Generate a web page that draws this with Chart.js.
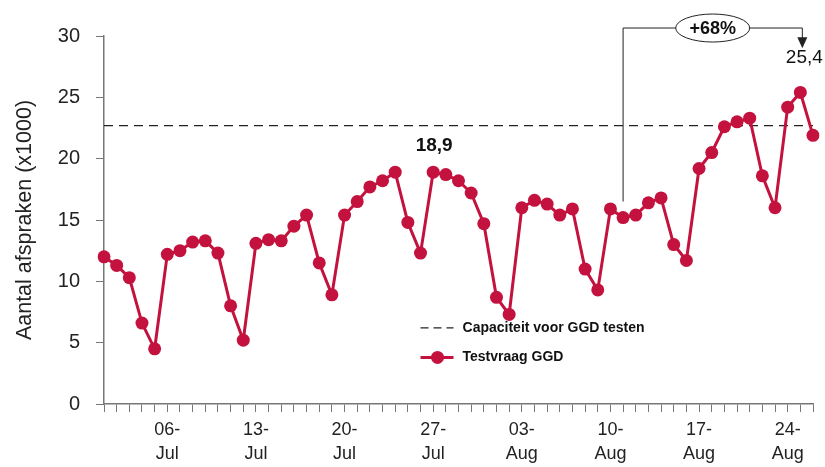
<!DOCTYPE html>
<html>
<head>
<meta charset="utf-8">
<script src="https://cdn.jsdelivr.net/npm/chart.js@4.4.1/dist/chart.umd.min.js"></script>
<style>
  html, body { margin: 0; padding: 0; background: #fff; }
  #wrap { width: 825px; height: 467px; }
</style>
</head>
<body>
<div id="wrap"><canvas id="chart" width="825" height="467"></canvas></div>
<script>
// dagen 1 juli t/m 26 augustus
const days = [
  '01-Jul','02-Jul','03-Jul','04-Jul','05-Jul','06-Jul','07-Jul','08-Jul','09-Jul','10-Jul',
  '11-Jul','12-Jul','13-Jul','14-Jul','15-Jul','16-Jul','17-Jul','18-Jul','19-Jul','20-Jul',
  '21-Jul','22-Jul','23-Jul','24-Jul','25-Jul','26-Jul','27-Jul','28-Jul','29-Jul','30-Jul',
  '31-Jul','01-Aug','02-Aug','03-Aug','04-Aug','05-Aug','06-Aug','07-Aug','08-Aug','09-Aug',
  '10-Aug','11-Aug','12-Aug','13-Aug','14-Aug','15-Aug','16-Aug','17-Aug','18-Aug','19-Aug',
  '20-Aug','21-Aug','22-Aug','23-Aug','24-Aug','25-Aug','26-Aug'
];

// testvraag GGD (x1000)
const testvraag = [
  12.0, 11.3, 10.3, 6.6, 4.5, 12.2, 12.5, 13.2, 13.3, 12.3,
  8.0, 5.2, 13.1, 13.4, 13.3, 14.5, 15.4, 11.5, 8.9, 15.4,
  16.5, 17.7, 18.2, 18.9, 14.8, 12.3, 18.9, 18.7, 18.2, 17.2,
  14.7, 8.7, 7.3, 16.0, 16.6, 16.3, 15.4, 15.9, 11.0, 9.3,
  15.9, 15.2, 15.4, 16.4, 16.8, 13.0, 11.7, 19.2, 20.5, 22.6,
  23.0, 23.3, 18.6, 16.0, 24.2, 25.4, 21.9
];

const capaciteit = 22.7;

// alleen de maandagen krijgen een label
const tickDays = ['06-Jul','13-Jul','20-Jul','27-Jul','03-Aug','10-Aug','17-Aug','24-Aug'];
const tickLabels = [['06-','Jul'],['13-','Jul'],['20-','Jul'],['27-','Jul'],['03-','Aug'],['10-','Aug'],['17-','Aug'],['24-','Aug']];

// losse labels en de +68% annotatie
const valueLabels = [
  { day: '27-Jul', text: '18,9', bold: true },
  { day: '25-Aug', text: '25,4', bold: false }
];
const stijging = { from: '11-Aug', to: '25-Aug', text: '+68%' };

const RED = '#c4123f';
const FONT = "'Liberation Sans', Arial, sans-serif";

const extrasPlugin = {
    id: 'extras',
    afterDatasetsDraw(chart) {
        const { ctx, scales: { x, y } } = chart;
        ctx.save();

        // waardelabels
        valueLabels.forEach(l => {
            const i = days.indexOf(l.day);
            ctx.font = (l.bold ? 'bold ' : '') + '19px ' + FONT;
            ctx.fillStyle = '#111';
            ctx.textAlign = 'center';
            ctx.textBaseline = 'alphabetic';
            const dy = l.bold ? 21 : 29;
            const dx = l.bold ? 1 : 4;
            ctx.fillText(l.text, x.getPixelForValue(i) + dx, y.getPixelForValue(testvraag[i]) - dy);
        });

        // annotatie +68%
        const i1 = days.indexOf(stijging.from);
        const i2 = days.indexOf(stijging.to);
        const x1 = x.getPixelForValue(i1);
        const x2 = x.getPixelForValue(i2) + 2;
        const yTop = y.getPixelForValue(30.65);
        const yStart = y.getPixelForValue(testvraag[i1]) - 16;
        const yArrow = y.getPixelForValue(29.0);
        const cx = (x1 + x2) / 2;
        ctx.strokeStyle = '#222';
        ctx.fillStyle = '#222';
        ctx.lineWidth = 1;
        ctx.beginPath();
        ctx.moveTo(x1, yStart);
        ctx.lineTo(x1, yTop);
        ctx.lineTo(x2, yTop);
        ctx.lineTo(x2, yArrow - 9);
        ctx.stroke();
        ctx.beginPath();
        ctx.moveTo(x2 - 5, yArrow - 11);
        ctx.lineTo(x2 + 5, yArrow - 11);
        ctx.lineTo(x2, yArrow);
        ctx.closePath();
        ctx.fill();

        ctx.beginPath();
        ctx.ellipse(cx, yTop, 37, 14, 0, 0, Math.PI * 2);
        ctx.fillStyle = '#fff';
        ctx.fill();
        ctx.stroke();
        ctx.fillStyle = '#111';
        ctx.font = 'bold 18px ' + FONT;
        ctx.textAlign = 'center';
        ctx.textBaseline = 'middle';
        ctx.fillText(stijging.text, cx, yTop + 1);

        // legenda
        const lx = x.getPixelForValue(25);
        const ly1 = y.getPixelForValue(6.2);
        const ly2 = y.getPixelForValue(3.8);
        ctx.strokeStyle = '#222';
        ctx.lineWidth = 1.2;
        ctx.setLineDash([8, 5]);
        ctx.beginPath();
        ctx.moveTo(lx, ly1);
        ctx.lineTo(lx + 33, ly1);
        ctx.stroke();
        ctx.setLineDash([]);
        ctx.strokeStyle = RED;
        ctx.lineWidth = 3;
        ctx.beginPath();
        ctx.moveTo(lx, ly2);
        ctx.lineTo(lx + 33, ly2);
        ctx.stroke();
        ctx.fillStyle = RED;
        ctx.beginPath();
        ctx.arc(lx + 17, ly2, 6.5, 0, Math.PI * 2);
        ctx.fill();
        ctx.fillStyle = '#111';
        ctx.font = 'bold 14px ' + FONT;
        ctx.textAlign = 'left';
        ctx.textBaseline = 'middle';
        ctx.fillText('Capaciteit voor GGD testen', lx + 42, ly1);
        ctx.fillText('Testvraag GGD', lx + 42, ly2);

        ctx.restore();
    }
};

const ctx = document.getElementById('chart').getContext('2d');

new Chart(ctx, {
    type: 'line',
    data: {
        labels: days,
        datasets: [
            {
                label: 'Testvraag GGD',
                data: testvraag,
                borderColor: RED,
                backgroundColor: RED,
                borderWidth: 3,
                pointRadius: 6.5,
                pointBorderWidth: 0,
                tension: 0
            },
            {
                label: 'Capaciteit voor GGD testen',
                data: days.map(() => capaciteit),
                borderColor: '#222',
                borderWidth: 1.2,
                borderDash: [9, 6],
                pointRadius: 0,
                tension: 0
            }
        ]
    },
    options: {
        responsive: false,
        animation: false,
        layout: { padding: { top: 36, right: 12, left: 0, bottom: 0 } },
        plugins: {
            legend: { display: false },
            tooltip: { enabled: false }
        },
        scales: {
            x: {
                type: 'category',
                offset: false,
                grid: { drawOnChartArea: false, drawTicks: true, tickLength: 8, color: '#777' },
                border: { color: '#777', width: 1.5 },
                ticks: {
                    autoSkip: false,
                    maxRotation: 0,
                    padding: 6,
                    color: '#222',
                    font: { family: FONT, size: 18, lineHeight: 1.35 },
                    callback: (v, i) => {
                        const k = tickDays.indexOf(days[i]);
                        return k >= 0 ? tickLabels[k] : '';
                    }
                },
                afterFit: s => { s.height = 63; }
            },
            y: {
                min: 0,
                max: 30,
                ticks: { stepSize: 5, color: '#222', padding: 16, font: { family: FONT, size: 20 } },
                grid: { drawOnChartArea: false, drawTicks: true, tickLength: 8, color: '#777' },
                border: { color: '#777', width: 1.5 },
                title: {
                    display: true,
                    text: 'Aantal afspraken (x1000)',
                    color: '#222',
                    font: { family: FONT, size: 21.5 },
                    padding: { top: 12, bottom: 0 }
                },
                afterFit: s => { s.width = 104; }
            }
        }
    },
    plugins: [extrasPlugin]
});
</script>
</body>
</html>
